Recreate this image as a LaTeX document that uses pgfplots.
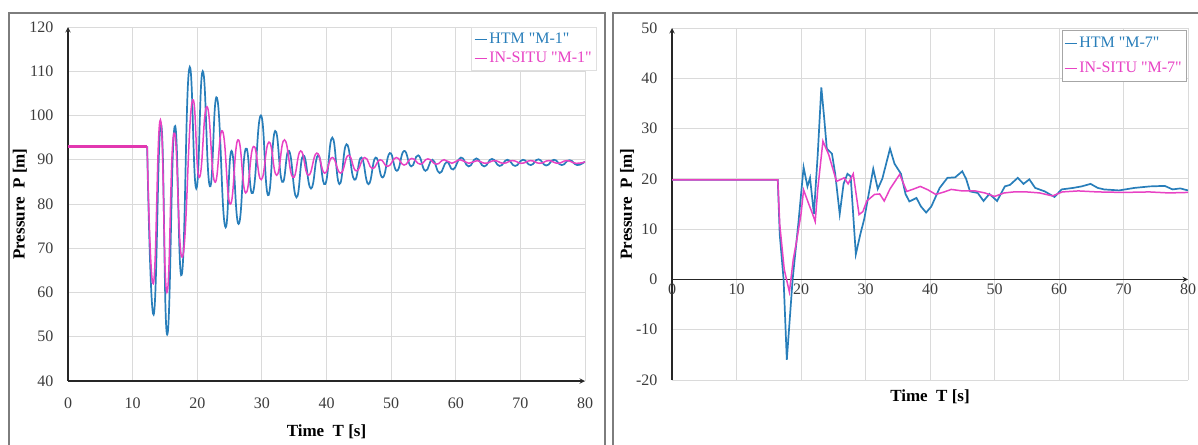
\documentclass[border=0pt]{standalone}
\usepackage{fontspec}
\setmainfont{Liberation Serif}
\usepackage{pgfplots}
\pgfplotsset{compat=1.18}
\usetikzlibrary{arrows.meta}

\definecolor{htm}{RGB}{40,126,186}
\definecolor{insitu}{RGB}{232,66,196}
\definecolor{gridc}{RGB}{218,218,218}
\definecolor{framec}{RGB}{125,125,125}
\definecolor{tickc}{RGB}{60,60,60}

\newcommand{\q}{\textquotedbl}

\pgfplotsset{
  panel/.style={
    scale only axis,
    grid=major,
    grid style={gridc, line width=0.8pt},
    major tick length=0pt,
    axis line style={line width=1.4pt, black!85, -{Latex[length=3.5pt,width=3.5pt]}},
    tick label style={font=\fontsize{16}{18}\selectfont, text=tickc},
    /pgf/number format/assume math mode=true,
    xlabel={Time\ \ T [s]},
    ylabel={Pressure\ \ P [m]},
    xmin=0, xmax=80,
    xtick={0,10,...,80},
    legend cell align=left,
    legend image code/.code={\draw[#1, line width=1.4pt] (0pt,0pt) -- (12pt,0pt);},
  },
  htmline/.style={htm, line width=1.7pt},
  insituline/.style={insitu, line width=1.5pt},
}

\begin{document}
\begin{tikzpicture}[x=1pt,y=1pt]
\useasboundingbox (0,0) rectangle (1198,444);
\clip (0,0) rectangle (1198,444);

% panel frames
\draw[framec, line width=1.3pt] (9,-5) -- (9,431) -- (605,431) -- (605,-5);
\draw[framec, line width=1.3pt] (613,-5) -- (613,431) -- (1210,431);

% ---------------- M-1 ----------------
\begin{axis}[panel,
  at={(68pt,63pt)}, anchor=south west,
  width=517pt, height=354pt,
  axis lines=left,
  ymin=40, ymax=120, ytick={40,50,...,120},
  xticklabel shift=13pt, yticklabel shift=11pt,
  xlabel style={at={(axis description cs:0.5,-0.144)}, anchor=center,
    font=\bfseries\fontsize{17}{19}\selectfont},
  ylabel style={at={(axis description cs:-0.093,0.5)}, anchor=center,
    font=\bfseries\fontsize{17}{19}\selectfont},
  legend style={at={(1.023,1.0)}, anchor=north east, draw=gray!25, fill=white,
    font=\fontsize{16}{18}\selectfont, row sep=3pt, inner xsep=3pt, inner ysep=4pt},
]
% transient after the closure (t >= 12.25 s)
\addplot[htmline, smooth, tension=0.85] coordinates {
(12.25,93) (13.25,55) (14.4,98) (15.35,50.5) (16.5,97.5)
(17.6,64) (18.75,110.5) (19.85,83.5) (20.85,110) (21.95,84) (23.05,104) (24.3,75)
(25.3,92) (26.4,75.5) (27.5,92.5) (28.6,82.5) (29.85,100) (30.95,82) (32.05,96.5)
(33.15,85) (34.2,92) (35.35,81.5) (36.4,91) (37.6,83.5) (38.7,91) (39.8,84.5)
(40.9,95) (42.0,84.5) (43.1,93.5) (44.3,85.5) (45.4,90.5) (46.5,84.5) (47.6,90.5)
(48.7,86) (49.8,91.5) (50.9,87.5) (52.0,92) (53.1,88.5) (54.2,91) (55.3,87.5)
(56.4,90) (57.5,87) (58.6,89.5) (59.6,87.8) (60.8,90.5) (62.0,88.5) (63.2,90.3)
(64.4,88.5) (65.6,90.2) (66.8,88.6) (68.0,90) (69.2,88.6) (70.4,90) (71.6,88.8)
(72.8,90.1) (74.0,88.7) (75.2,90) (76.4,88.8) (77.6,89.9) (78.8,88.8) (80,89.6)
};
\addlegendentry{\textcolor{htm}{HTM \q M-1\q}}
\addplot[insituline, smooth, tension=0.85] coordinates {
(12.25,93) (13.2,62) (14.3,99) (15.3,60) (16.4,96)
(17.7,68) (19.2,103) (20.3,86) (21.5,102) (22.7,85) (23.9,96.5) (25.1,80)
(26.3,94.5) (27.5,82.5) (28.7,93) (29.9,85.5) (31.1,94) (32.3,86.5) (33.5,94.5)
(34.8,86) (36.0,92) (37.2,86.5) (38.5,91.5) (39.7,87) (40.9,90.5) (42.2,87)
(43.4,91) (44.6,87.5) (45.9,90.5) (47.1,88) (48.3,90) (49.5,88.5) (50.8,90.5)
(52.0,88.8) (53.2,90.3) (54.5,89) (55.7,90.2) (57.0,89) (58.2,90) (59.4,89.2)
(60.7,90) (62.0,89.2) (63.3,89.8) (64.6,89.2) (66.0,89.8) (67.4,89.2) (68.8,89.8)
(70.2,89.2) (71.6,89.8) (73.0,89.2) (74.4,89.8) (75.8,89.2) (77.2,89.8) (78.6,89.2) (80,89.5)
};
\addlegendentry{\textcolor{insitu}{IN-SITU \q M-1\q}}
% steady level before the closure, shared by both records
\addplot[htm, line width=1.7pt, forget plot] coordinates {(0,93) (12.25,93)};
\addplot[insitu!85!purple, line width=2.6pt, forget plot] coordinates {(0,93) (12.25,93)};
\end{axis}

% ---------------- M-7 ----------------
\begin{axis}[panel,
  at={(672pt,64pt)}, anchor=south west,
  width=516pt, height=352pt,
  axis x line=middle, axis y line=left,
  hide obscured x ticks=false, hide obscured y ticks=false,
  ymin=-20, ymax=50, ytick={-20,-10,...,50},
  xticklabel shift=1pt, yticklabel shift=11pt,
  xlabel style={at={(axis description cs:0.5,-0.048)}, anchor=center,
    font=\bfseries\fontsize{17}{19}\selectfont},
  ylabel style={at={(axis description cs:-0.087,0.5)}, anchor=center,
    font=\bfseries\fontsize{17}{19}\selectfont},
  legend style={at={(0.996,0.994)}, anchor=north east, draw=gray!70, fill=white,
    font=\fontsize{16}{18}\selectfont, row sep=9pt, inner xsep=2pt, inner ysep=5pt},
]
\addplot[htmline] coordinates {
(0,19.8) (16.4,19.8) (16.7,9) (17.3,0) (17.8,-16) (18.7,0) (19.6,11.3) (20.4,22.3)
(21.0,18.5) (21.4,20.2) (22.0,13) (22.6,25) (23.15,38.2) (23.6,32) (24.0,26)
(24.8,25) (25.3,21) (26.0,13) (26.6,19) (27.2,21) (27.7,20.5) (28.5,5) (29.2,9)
(29.8,12) (30.5,17) (31.2,22) (31.9,18) (32.6,20) (33.8,26) (34.5,23) (35.5,21)
(36.2,17) (36.8,15.5) (37.9,16.2) (38.6,14.5) (39.4,13.3) (40.2,14.5) (41.5,18.2)
(42.7,20.2) (43.9,20.3) (45.0,21.5) (45.6,20) (46.2,17.5) (47.4,17.2) (48.3,15.6)
(49.2,17) (50.4,15.6) (51.6,18.5) (52.4,18.8) (53.6,20.2) (54.5,19) (55.4,19.9)
(56.3,18.2) (57.8,17.5) (59.3,16.4) (60.4,17.9) (62.2,18.2) (63.5,18.5) (64.9,19)
(66.0,18.2) (67.0,17.9) (69.3,17.7) (71.7,18.2) (74.1,18.5) (76.4,18.6) (77.6,17.9)
(78.8,18.1) (80,17.7)
};
\addlegendentry{\textcolor{htm}{HTM \q M-7\q}}
\addplot[insituline] coordinates {
(0,19.8) (16.4,19.8) (16.7,11) (17.4,2) (18.2,-2.5) (18.8,4) (19.3,7.5) (20.0,13)
(20.4,17.8) (21.2,15) (21.8,13) (22.2,11.5) (22.6,18) (23.4,27.5) (24.3,24.8)
(25.5,19.5) (26.7,20.2) (27.3,19) (28.1,21) (29.0,12.9) (29.6,13.5) (30.2,15.6)
(31.4,16.9) (32.2,17) (32.9,15.6) (33.8,18) (35.3,20.9) (36.4,17.5) (37.5,18)
(38.5,18.5) (39.7,17.8) (40.9,16.9) (42.2,17.4) (43.3,17.9) (45.0,17.6) (47.0,17.6)
(48.5,17.2) (50.0,16.5) (51.5,17.2) (53.0,17.4) (55.0,17.4) (57.0,17.2) (59.0,16.6)
(60.5,17.4) (63.0,17.6) (66.0,17.4) (70.0,17.3) (74.0,17.4) (77.0,17.2) (80,17.3)
};
\addlegendentry{\textcolor{insitu}{IN-SITU \q M-7\q}}
\end{axis}
\end{tikzpicture}
\end{document}
